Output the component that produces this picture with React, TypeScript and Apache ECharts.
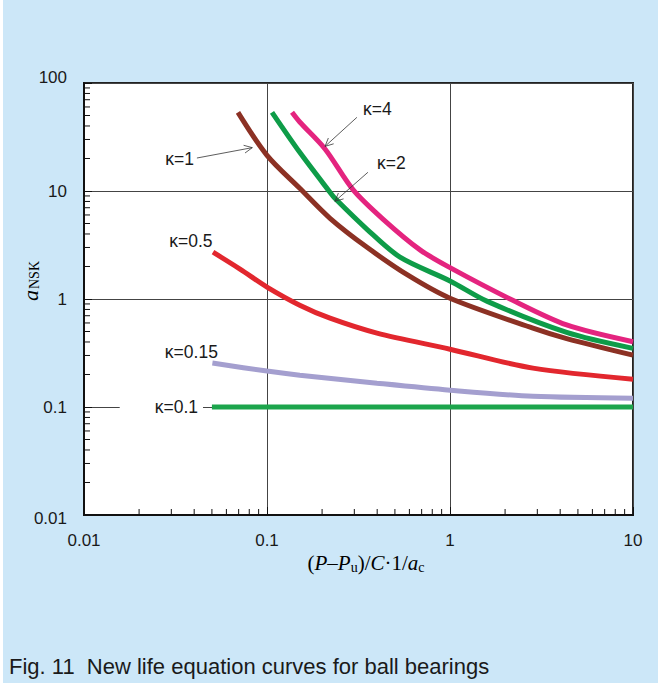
import { useEffect, useRef } from 'react';
import * as echarts from 'echarts';

// Axis decades (log scale)
const xMin = 0.01;
const xMax = 10;
const yMin = 0.01;
const yMax = 100;

// Minor tick multipliers within each decade
const minorMultipliers = [2, 3, 4, 5, 6, 7, 8, 9];
const xDecades = [0.01, 0.1, 1];
const yDecades = [0.01, 0.1, 1, 10];

// Life-adjustment curves: [(P-Pu)/C·1/ac, aNSK]
const kappa4 = [
  [0.137, 53.5], [0.151, 43.5], [0.2075, 24.5], [0.295, 10.3], [0.43, 5.5],
  [0.686, 2.85], [1, 1.95], [2.13, 1.0], [4.34, 0.575], [10, 0.402],
];
const kappa2 = [
  [0.1065, 53.5], [0.151, 22.8], [0.221, 9.73], [0.235, 8.56], [0.352, 4.42],
  [0.533, 2.44], [1, 1.47], [1.6, 0.95], [4.34, 0.49], [10, 0.349],
];
const kappa1 = [
  [0.0694, 53.5], [0.1, 21.4], [0.151, 10.6], [0.221, 5.59], [0.352, 3.01],
  [0.589, 1.66], [1, 1.017], [2.84, 0.537], [4.34, 0.43], [10, 0.302],
];
const kappa05 = [
  [0.0507, 2.71], [0.0712, 1.89], [0.1, 1.29], [0.151, 0.876], [0.221, 0.664],
  [0.399, 0.483], [1, 0.343], [2.84, 0.229], [10, 0.181],
];
const kappa015 = [
  [0.0503, 0.255], [0.1, 0.215], [0.151, 0.197], [0.399, 0.166], [1, 0.143],
  [2.84, 0.1255], [10, 0.1206],
];
const kappa01 = [
  [0.05, 0.1], [10, 0.1],
];

const curveNames = ['κ=0.1', 'κ=0.15', 'κ=0.5', 'κ=1', 'κ=2', 'κ=4'];
const curveData = [kappa01, kappa015, kappa05, kappa1, kappa2, kappa4];
const curveColors = ['#1ca54c', '#a49fcf', '#e2272e', '#8c3124', '#0e9c48', '#e4247f'];

// Curve labels: text, anchor x, anchor y, horizontal alignment
const labelTexts = ['κ=4', 'κ=2', 'κ=1', 'κ=0.5', 'κ=0.15', 'κ=0.1'];
const labelX = [0.335, 0.399, 0.0399, 0.0384, 0.0386, 0.0447];
const labelY = [57, 18, 19.6, 3.43, 0.322, 0.1];
const labelAlign = ['left', 'left', 'right', 'center', 'center', 'right'];

// Leader arrows: tail and head in data coordinates
const arrowFromX = [0.31, 0.356, 0.0414];
const arrowFromY = [48.1, 14.9, 20.2];
const arrowToX = [0.2075, 0.235, 0.0831];
const arrowToY = [25.9, 8.03, 25.2];

const FONT = '"Liberation Sans", Arial, Helvetica, sans-serif';
const SERIF = '"Liberation Serif", "DejaVu Serif", "Times New Roman", serif';

export default function App() {
  const ref = useRef<HTMLDivElement>(null);

  useEffect(() => {
    if (!ref.current) return;
    const chart = echarts.init(ref.current, undefined, { renderer: 'svg' });

    const minorTickData: number[][] = [];
    xDecades.forEach((d) => minorMultipliers.forEach((m) => minorTickData.push([d * m, yMin, 0])));
    yDecades.forEach((d) => minorMultipliers.forEach((m) => minorTickData.push([xMin, d * m, 1])));

    const labelData = labelTexts.map((_, i) => [labelX[i], labelY[i], i]);
    const arrowData = arrowFromX.map((_, i) => [arrowFromX[i], arrowFromY[i], arrowToX[i], arrowToY[i]]);

    const fmt = (v: number) => {
      const s = String(Number(v.toPrecision(3)));
      if (v >= 99) return '{hi|' + s + '}';
      if (v < 0.011) return '{lo|' + s + '}';
      return s;
    };

    chart.setOption({
      animation: false,
      backgroundColor: '#cce7f8',
      grid: {
        left: 84,
        right: 25,
        top: 83,
        bottom: 168,
        show: true,
        backgroundColor: '#ffffff',
        borderColor: '#222',
        borderWidth: 2,
      },
      xAxis: {
        type: 'log',
        logBase: 10,
        min: xMin,
        max: xMax,
        axisLine: { show: true, lineStyle: { color: '#111', width: 2 } },
        axisTick: { show: true, inside: true, length: 8, lineStyle: { color: '#111', width: 1 } },
        axisLabel: {
          margin: 17,
          fontSize: 17,
          fontFamily: FONT,
          color: '#1a1a1a',
          formatter: (v: number) => String(Number(v.toPrecision(3))),
        },
        splitLine: { show: true, lineStyle: { color: '#444', width: 1 } },
      },
      yAxis: {
        type: 'log',
        logBase: 10,
        min: yMin,
        max: yMax,
        axisLine: { show: true, lineStyle: { color: '#111', width: 2 } },
        axisTick: { show: true, inside: true, length: 8, lineStyle: { color: '#111', width: 1 } },
        axisLabel: {
          margin: 17,
          fontSize: 17,
          fontFamily: FONT,
          color: '#1a1a1a',
          formatter: fmt,
          rich: {
            hi: { fontSize: 17, fontFamily: FONT, color: '#1a1a1a', padding: [0, 0, 12, 0] },
            lo: { fontSize: 17, fontFamily: FONT, color: '#1a1a1a', padding: [6, 0, 0, 0] },
          },
        },
        splitLine: { show: true, lineStyle: { color: '#444', width: 1 } },
      },
      graphic: [
        { type: 'rect', left: 0, top: 0, shape: { width: 3, height: 683 }, style: { fill: '#ffffff' }, silent: true },
        {
          type: 'text',
          x: 30,
          y: 281,
          rotation: Math.PI / 2,
          style: {
            text: '{a|a}{s|NSK}',
            align: 'center',
            verticalAlign: 'middle',
            rich: {
              a: { fontFamily: SERIF, fontStyle: 'italic', fontSize: 22, color: '#1a1a1a' },
              s: { fontFamily: SERIF, fontSize: 14, color: '#1a1a1a', padding: [8, 0, 0, 1] },
            },
          },
        },
        {
          type: 'text',
          x: 366,
          y: 563,
          style: {
            text: '{n|(}{i|P}{n|–}{i|P}{s|u}{n|)/}{i|C}{n|·1/}{i|a}{s|c}',
            align: 'center',
            verticalAlign: 'middle',
            rich: {
              n: { fontFamily: SERIF, fontSize: 21, color: '#1a1a1a' },
              i: { fontFamily: SERIF, fontSize: 21, fontStyle: 'italic', color: '#1a1a1a' },
              s: { fontFamily: SERIF, fontSize: 14, color: '#1a1a1a', padding: [8, 0, 0, 0] },
            },
          },
        },
        {
          type: 'text',
          x: 9,
          y: 666,
          style: {
            text: 'Fig. 11  New life equation curves for ball bearings',
            font: '22px ' + FONT,
            fill: '#1a1a1a',
            verticalAlign: 'middle',
          },
        },
      ],
      series: [
        ...curveData.map((d, i) => ({
          name: curveNames[i],
          type: 'line',
          data: d,
          showSymbol: false,
          symbol: 'none',
          smooth: 0.3,
          z: 3,
          lineStyle: { color: curveColors[i], width: 5, cap: 'butt' },
        })),
        {
          // minor ticks on the log axes
          type: 'custom',
          data: minorTickData,
          clip: false,
          silent: true,
          z: 4,
          renderItem: (_p: any, api: any) => {
            const p = api.coord([api.value(0), api.value(1)]);
            const onX = api.value(2) === 0;
            return {
              type: 'line',
              shape: onX
                ? { x1: p[0], y1: p[1], x2: p[0], y2: p[1] - 6 }
                : { x1: p[0], y1: p[1], x2: p[0] + 6, y2: p[1] },
              style: { stroke: '#111', lineWidth: 1 },
            };
          },
        },
        {
          // leader arrows for the upper curve labels
          type: 'custom',
          data: arrowData,
          clip: false,
          silent: true,
          z: 5,
          renderItem: (_p: any, api: any) => {
            const a = api.coord([api.value(0), api.value(1)]);
            const b = api.coord([api.value(2), api.value(3)]);
            const ang = Math.atan2(b[1] - a[1], b[0] - a[0]);
            const L = 9;
            const w = 0.45;
            const p1 = [b[0] - L * Math.cos(ang - w), b[1] - L * Math.sin(ang - w)];
            const p2 = [b[0] - L * Math.cos(ang + w), b[1] - L * Math.sin(ang + w)];
            return {
              type: 'group',
              children: [
                { type: 'line', shape: { x1: a[0], y1: a[1], x2: b[0], y2: b[1] }, style: { stroke: '#333', lineWidth: 0.8 } },
                { type: 'polyline', shape: { points: [p1, b, p2] }, style: { stroke: '#333', lineWidth: 0.8, fill: null } },
              ],
            };
          },
        },
        {
          // curve labels
          type: 'custom',
          data: labelData,
          clip: false,
          silent: true,
          z: 6,
          renderItem: (_p: any, api: any) => {
            const i = api.value(2);
            const p = api.coord([api.value(0), api.value(1)]);
            const boxed = labelTexts[i] === 'κ=0.1';
            return {
              type: 'text',
              x: p[0],
              y: p[1],
              style: {
                text: labelTexts[i],
                font: '17.5px ' + FONT,
                fill: '#1a1a1a',
                align: labelAlign[i],
                verticalAlign: 'middle',
                backgroundColor: boxed ? '#ffffff' : undefined,
                padding: boxed ? [2, 5, 2, 35] : 0,
              },
            };
          },
        },
      ],
    });

    return () => chart.dispose();
  }, []);

  return (
    <div style={{ position: 'fixed', left: 0, top: 0, width: 658, height: 683 }}>
      <div ref={ref} style={{ width: 658, height: 683 }} />
    </div>
  );
}
